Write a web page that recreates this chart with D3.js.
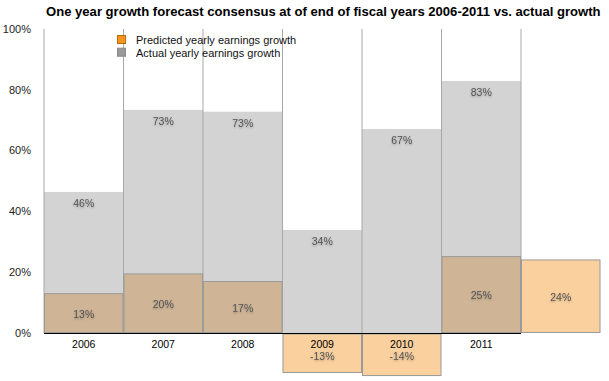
<!DOCTYPE html>
<html>
<head>
<meta charset="utf-8">
<script src="https://cdn.jsdelivr.net/npm/d3@7"></script>
<style>
  html, body { margin: 0; padding: 0; background: #fff; }
  svg { display: block; font-family: "Liberation Sans", Arial, Helvetica, sans-serif; }
</style>
</head>
<body>
<svg id="chart" width="609" height="381"></svg>
<script>
const title = "One year growth forecast consensus at of end of fiscal years 2006-2011 vs. actual growth";
const categories = ["2006", "2007", "2008", "2009", "2010", "2011", "2012"];
const yearLabels = ["2006", "2007", "2008", "2009", "2010", "2011", ""];
const actualValues = [46.4, 73.4, 72.8, 33.9, 67.1, 82.9];
const predictedValues = [13.1, 19.6, 17.1, -13, -14, 25.3, 24.2];
const yTicks = [0, 20, 40, 60, 80, 100];
const legendLabels = ["Predicted yearly earnings growth", "Actual yearly earnings growth"];

(function () {
const svg = d3.select("#chart");
const plotLeft = 44, plotRight = 600.5, plotTop = 29, zeroY = 333;

const x = d3.scaleBand().domain(categories).range([plotLeft, plotRight]).padding(0);
const y = d3.scaleLinear().domain([0, 100]).range([zeroY, plotTop]);

// text shadow filter
const defs = svg.append("defs");
const f = defs.append("filter").attr("id", "shadow").attr("x", "-20%").attr("y", "-40%").attr("width", "140%").attr("height", "180%");
f.append("feDropShadow").attr("dx", 0).attr("dy", 1).attr("stdDeviation", 1)
  .attr("flood-color", "#000").attr("flood-opacity", 0.3);

// Title
const t = svg.append("text").attr("x", 46).attr("y", 16)
  .attr("font-weight", "bold").attr("font-size", 13).attr("fill", "#000").text(title);
const tw = t.node().getComputedTextLength();
t.attr("font-size", 13 * 555 / tw);

// Y tick labels
svg.append("g").selectAll("text").data(yTicks).join("text")
  .attr("x", 31).attr("y", d => y(d)).attr("dy", "0.35em")
  .attr("text-anchor", "end").attr("font-size", 11).attr("fill", "#222")
  .text(d => d + "%");

// Actual bars
svg.append("g").selectAll("rect").data(actualValues).join("rect")
  .attr("x", (d, i) => x(categories[i])).attr("width", x.bandwidth())
  .attr("y", d => y(d)).attr("height", d => y(0) - y(d))
  .attr("fill", "#d3d3d3");

// Vertical grid lines (column separators)
const gridIdx = d3.range(actualValues.length + 1);
svg.append("g").selectAll("line").data(gridIdx).join("line")
  .attr("x1", i => plotLeft + i * x.bandwidth()).attr("x2", i => plotLeft + i * x.bandwidth())
  .attr("y1", y(100)).attr("y2", y(0))
  .attr("stroke", "#a8a8a8").attr("stroke-width", 1);

// Predicted bars
svg.append("g").selectAll("rect").data(predictedValues).join("rect")
  .attr("x", (d, i) => x(categories[i]) + 0.5).attr("width", x.bandwidth() - 1)
  .attr("y", d => y(Math.max(0, d)) + (d < 0 ? 1 : 0.5))
  .attr("height", d => Math.abs(y(0) - y(d)) - 1)
  .attr("fill", (d, i) => (d > 0 && actualValues[i] !== undefined) ? "#cfb596" : "#fad09e")
  .attr("stroke", "#9a9a9a").attr("stroke-width", 1);

// Zero line
svg.append("line")
  .attr("x1", plotLeft).attr("x2", x(categories[actualValues.length - 1]) + x.bandwidth())
  .attr("y1", y(0) + 0.5).attr("y2", y(0) + 0.5)
  .attr("stroke", "#000").attr("stroke-width", 1.2);

// Year labels
svg.append("g").selectAll("text").data(yearLabels).join("text")
  .attr("x", (d, i) => x(categories[i]) + x.bandwidth() / 2).attr("y", 347.5)
  .attr("text-anchor", "middle").attr("font-size", 10.5).attr("fill", "#000")
  .text(d => d);

// Actual labels
svg.append("g").selectAll("text").data(actualValues).join("text")
  .attr("x", (d, i) => x(categories[i]) + x.bandwidth() / 2).attr("y", d => y(d) + 15)
  .attr("text-anchor", "middle").attr("font-size", 10.5).attr("fill", "#555")
  .attr("filter", "url(#shadow)")
  .text(d => Math.round(d) + "%");

// Predicted labels
svg.append("g").selectAll("text").data(predictedValues).join("text")
  .attr("x", (d, i) => x(categories[i]) + x.bandwidth() / 2)
  .attr("y", d => d < 0 ? 359.5 : (y(d) + y(0)) / 2 + 4.5)
  .attr("text-anchor", "middle").attr("font-size", 10.5).attr("fill", "#555")
  .attr("filter", "url(#shadow)")
  .text(d => Math.round(d) + "%");

// Legend
const legend = svg.append("g");
const legendColors = [["#f7941d", "#b86a10"], ["#999999", "#8a8a8a"]];
legend.selectAll("rect").data(legendLabels).join("rect")
  .attr("x", 117.5).attr("y", (d, i) => 35.5 + i * 12.7).attr("width", 8).attr("height", 8)
  .attr("fill", (d, i) => legendColors[i][0]).attr("stroke", (d, i) => legendColors[i][1]);
legend.selectAll("text").data(legendLabels).join("text")
  .attr("x", 136).attr("y", (d, i) => 44 + i * 12.5)
  .attr("font-size", 11).attr("fill", "#111")
  .text(d => d);
})();
</script>
</body>
</html>
